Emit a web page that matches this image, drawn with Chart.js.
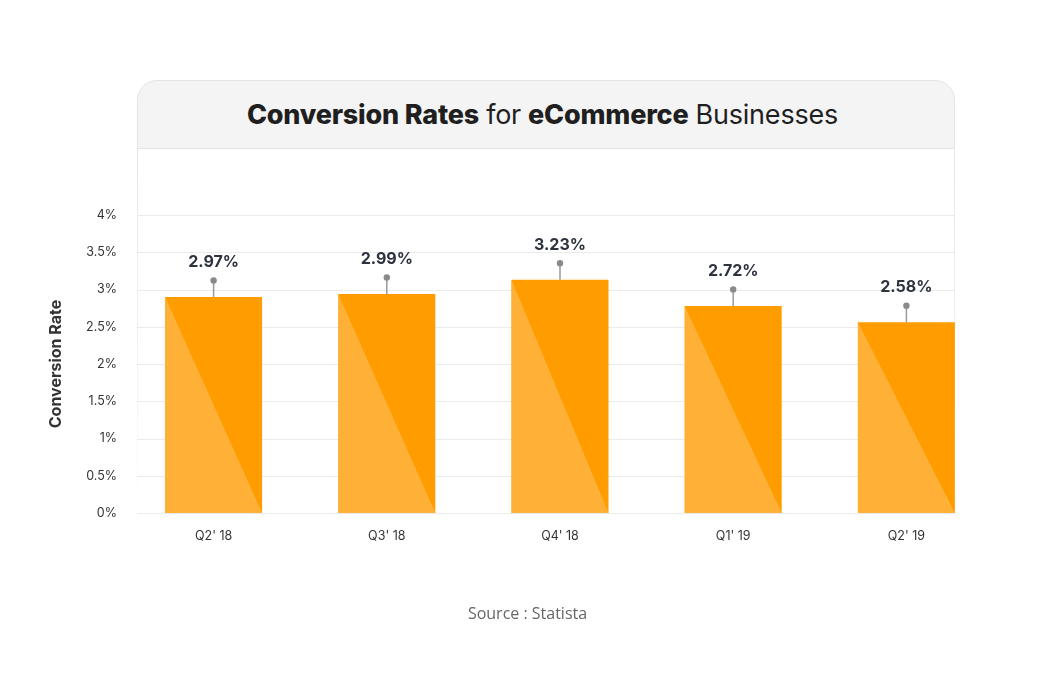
<!DOCTYPE html>
<html>
<head>
<meta charset="utf-8">
<script src="https://cdn.jsdelivr.net/npm/chart.js@4.4.1/dist/chart.umd.min.js"></script>
<style>
  html, body { margin: 0; padding: 0; background: #fff; }
  body { width: 1055px; height: 673px; position: relative; overflow: hidden; font-family: Inter, sans-serif; }
  .head {
    position: absolute; left: 137px; top: 80px; width: 816px; height: 67px;
    background: #f4f4f4; border: 1px solid #e4e4e4; border-radius: 20px 20px 0 0;
    display: flex; align-items: center; justify-content: center;
    font-size: 27px; color: #1f1f1f; letter-spacing: -0.2px;
  }
  .head b { font-weight: 800; }
  .head span { font-weight: 400; margin: 0 7px; }
  .side { position: absolute; top: 149px; width: 1px; height: 380px;
    background: linear-gradient(#e6e6e6, rgba(230,230,230,0)); }
  #wrap { position: absolute; left: 0; top: 0; width: 955px; height: 673px; overflow: hidden; }
  #chart { position: absolute; left: 0; top: 0; }
  .src { position: absolute; top: 602px; left: 0; width: 1055px; text-align: center;
    font-family: "Open Sans", sans-serif; font-size: 16px; color: #666; }
</style>
</head>
<body>
<div class="head"><b>Conversion Rates</b><span>for</span><b>eCommerce</b><span>Businesses</span></div>
<div class="side" style="left:137px"></div>
<div class="side" style="left:954px"></div>
<div id="wrap"><canvas id="chart" width="1055" height="673"></canvas></div>
<div class="src">Source : Statista</div>
<script>
const quarters = ["Q2' 18", "Q3' 18", "Q4' 18", "Q1' 19", "Q2' 19"];
const barValues = [2.90, 2.94, 3.13, 2.78, 2.56];   // bar heights as drawn
const rateLabels = ["2.97%", "2.99%", "3.23%", "2.72%", "2.58%"];
const yTicks = [0, 0.5, 1, 1.5, 2, 2.5, 3, 3.5, 4];

const darkOrange = "#ff9d00";
const lightOrange = "#ffb137";

// grid lines, light triangle on bars, pins and labels
const barDecor = {
  id: "barDecor",
  beforeDatasetsDraw(chart) {
    const { ctx } = chart;
    const y = chart.scales.y;
    ctx.save();
    ctx.strokeStyle = "#ebebeb";
    ctx.lineWidth = 1;
    yTicks.forEach(t => {
      const py = Math.round(y.getPixelForValue(t)) + 0.5;
      ctx.beginPath();
      ctx.moveTo(137, py);
      ctx.lineTo(955, py);
      ctx.stroke();
    });
    ctx.restore();
  },
  afterDatasetsDraw(chart) {
    const { ctx } = chart;
    const bars = chart.getDatasetMeta(0).data;
    ctx.save();
    bars.forEach((bar, i) => {
      const left = bar.x - bar.width / 2;
      const right = bar.x + bar.width / 2;
      // lighter lower-left triangle
      ctx.fillStyle = lightOrange;
      ctx.beginPath();
      ctx.moveTo(left, bar.y);
      ctx.lineTo(right, bar.base);
      ctx.lineTo(left, bar.base);
      ctx.closePath();
      ctx.fill();

      // pin
      const dotY = bar.y - 16.5;
      ctx.strokeStyle = "#9a9a9a";
      ctx.lineWidth = 1.5;
      ctx.beginPath();
      ctx.moveTo(bar.x, bar.y);
      ctx.lineTo(bar.x, dotY);
      ctx.stroke();
      ctx.fillStyle = "#8a8a8a";
      ctx.beginPath();
      ctx.arc(bar.x, dotY, 3.2, 0, Math.PI * 2);
      ctx.fill();

      // value label
      ctx.fillStyle = "#2e3340";
      ctx.font = "bold 16px Inter, sans-serif";
      ctx.textAlign = "center";
      ctx.textBaseline = "middle";
      ctx.fillText(rateLabels[i], bar.x, dotY - 18.5);
    });
    ctx.restore();
  }
};

new Chart(document.getElementById("chart"), {
  type: "bar",
  data: {
    labels: quarters,
    datasets: [{
      data: barValues,
      backgroundColor: darkOrange,
      borderWidth: 0,
      categoryPercentage: 1,
      barPercentage: 0.56
    }]
  },
  options: {
    responsive: false,
    animation: false,
    layout: { padding: { left: 0, top: 215, right: 62, bottom: 110 } },
    plugins: { legend: { display: false }, tooltip: { enabled: false } },
    scales: {
      x: {
        grid: { display: false },
        border: { display: false },
        ticks: { color: "#333", font: { family: "Inter", size: 12.5 }, padding: 8 },
        afterFit: s => { s.height = 50; }
      },
      y: {
        min: 0,
        max: 4,
        afterBuildTicks: s => { s.ticks = yTicks.map(v => ({ value: v })); },
        grid: { display: false },
        border: { display: false },
        ticks: { color: "#333", font: { family: "Inter", size: 12.5 }, padding: 2, callback: v => v + "%" },
        title: {
          display: true,
          text: "Conversion Rate",
          color: "#333",
          font: { family: "Inter", size: 16, weight: "bold" },
          padding: { top: 47, bottom: 0 }
        },
        afterFit: s => { s.width = 127; }
      }
    }
  },
  plugins: [barDecor]
});
</script>
</body>
</html>
